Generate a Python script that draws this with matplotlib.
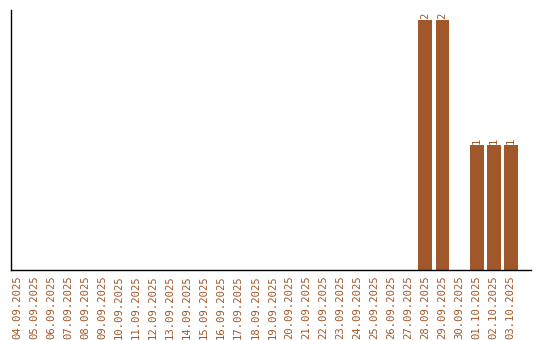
import matplotlib
matplotlib.use("Agg")
import matplotlib.pyplot as plt

dates = ["04.09.2025", "05.09.2025", "06.09.2025", "07.09.2025", "08.09.2025",
         "09.09.2025", "10.09.2025", "11.09.2025", "12.09.2025", "13.09.2025",
         "14.09.2025", "15.09.2025", "16.09.2025", "17.09.2025", "18.09.2025",
         "19.09.2025", "20.09.2025", "21.09.2025", "22.09.2025", "23.09.2025",
         "24.09.2025", "25.09.2025", "26.09.2025", "27.09.2025", "28.09.2025",
         "29.09.2025", "30.09.2025", "01.10.2025", "02.10.2025", "03.10.2025"]
counts = [0, 0, 0, 0, 0, 0, 0, 0, 0, 0,
          0, 0, 0, 0, 0, 0, 0, 0, 0, 0,
          0, 0, 0, 0, 2, 2, 0, 1, 1, 1]

color = "#A0572A"
plt.rcParams["font.family"] = ["DejaVu Sans Mono"]

fig = plt.figure(figsize=(5.4, 3.4), dpi=100)
ax = fig.add_axes([11 / 540, 70 / 340, 520 / 540, 260 / 340])

x = list(range(len(dates)))
bars = ax.bar(x, counts, width=0.82, color=color)
for b, v in zip(bars, counts):
    if v > 0:
        ax.text(b.get_x() + b.get_width() / 2, v + 0.01, str(v), rotation=90,
                ha="center", va="bottom", fontsize=7.6, color=color)

ax.set_xlim(-0.35, 30.2)
ax.set_ylim(0, 2.08)
ax.set_xticks(x)
ax.set_xticklabels(dates, rotation=90, fontsize=7.6, color=color)
ax.set_yticks([])
ax.tick_params(axis="x", length=0, pad=4)
ax.spines["top"].set_visible(False)
ax.spines["right"].set_visible(False)
ax.spines["left"].set_linewidth(1)
ax.spines["bottom"].set_linewidth(1)

fig.savefig("out.png", dpi=100)
